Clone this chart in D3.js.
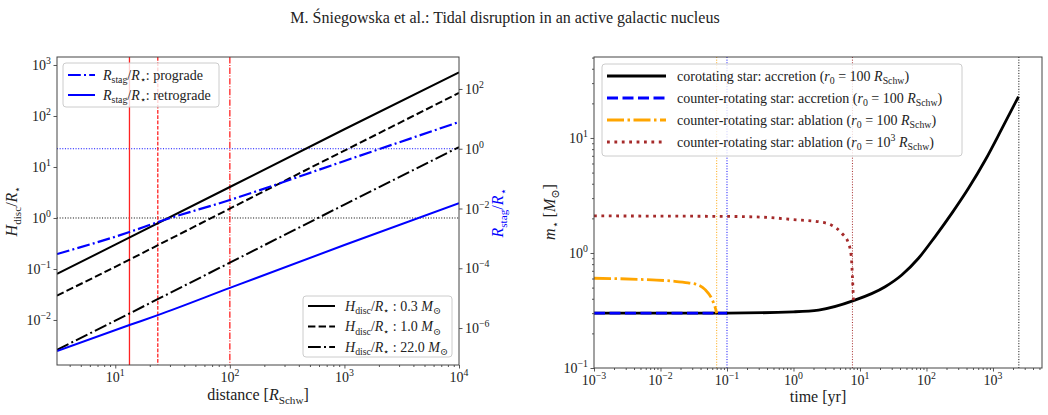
<!DOCTYPE html>
<html>
<head>
<meta charset="utf-8">
<script src="https://cdn.jsdelivr.net/npm/d3@7"></script>
<style>
body { margin: 0; background: #fff; }
svg text, svg tspan { font-family: "Liberation Serif", "DejaVu Serif", serif; fill: #222; }
</style>
</head>
<body>
<div id="chart-area"></div>
<script>
// ---- left panel data (distance in R_Schw) ----
var distTicks = [10, 100, 1000, 10000];
var hdiscTicks = [1e-2, 1e-1, 1, 10, 100, 1000];
var rstagTicks = [1e-6, 1e-4, 1e-2, 1, 100];

var hdiscDist = [3.1, 10, 100, 1000, 10000];
var hdisc03 = [0.08, 0.30, 4.05, 55, 720];
var hdisc10 = [0.03, 0.11, 1.53, 21, 283];
var hdisc22 = [0.0026, 0.0097, 0.133, 1.83, 24.6];

var progradeDist = [3.1, 13.3, 23.5, 100, 1000, 10000];
var progradeVal = [3.0e-4, 1.63e-3, 3.5e-3, 0.0193, 0.39, 7.85];
var retroDist = [3.1, 13.3, 23.5, 100, 1000, 10000];
var retroVal = [1.7e-7, 1.26e-6, 2.7e-6, 2.2e-5, 6.0e-4, 0.015];

var redLines = [13.3, 23.5, 100];

// ---- right panel data (time in yr, mass in M_sun) ----
var timeTicks = [1e-3, 1e-2, 1e-1, 1, 10, 100, 1000];
var massTicks = [0.1, 1, 10];

var coroT = [1e-3, 0.1, 1, 2.38, 7.98, 23.9, 42.5, 75.8, 135, 240, 428, 763, 1356, 2417];
var coroM = [0.3, 0.3, 0.308, 0.319, 0.385, 0.509, 0.644, 0.90, 1.39, 2.21, 3.65, 6.4, 12.0, 22.9];
var counterAccT = [1e-3, 0.1];
var counterAccM = [0.3, 0.3];
var abl100T = [1e-3, 0.0047, 0.0147, 0.026, 0.037, 0.047, 0.059, 0.066, 0.070];
var abl100M = [0.603, 0.59, 0.57, 0.55, 0.527, 0.48, 0.40, 0.34, 0.30];
var abl1000T = [1e-3, 0.1, 0.4, 1.0, 2.38, 3.7, 5.3, 6.7, 7.4, 7.7, 7.98];
var abl1000M = [2.1, 2.08, 2.04, 1.95, 1.87, 1.75, 1.49, 1.22, 0.93, 0.62, 0.385];

var endTimes = [0.07, 0.1, 7.7, 2450];
var endColors = ["orange", "blue", "brown", "black"];

var W = 1048, H = 415;
var FRAME = "#444";
var TICK_FS = 14, LEG_FS = 14, LAB_FS = 16;

var svg = d3.select("#chart-area").append("svg")
    .attr("width", W)
    .attr("height", H);

function zip(a, b) {
    return a.map(function(v, i) { return [v, b[i]]; });
}

// text with italic / sub / sup parts
function rich(sel, parts, size) {
    var shift = 0;
    parts.forEach(function(p) {
        var txt = p[0], kind = p[1] || "r";
        var target = 0, fs = size, style = "normal";
        if (kind === "i") style = "italic";
        if (kind === "sub") { target = size * 0.28; fs = size * 0.7; }
        if (kind === "sup") { target = -size * 0.42; fs = size * 0.7; }
        sel.append("tspan")
            .attr("dy", target - shift)
            .attr("font-size", fs)
            .attr("font-style", style)
            .text(txt);
        shift = target;
    });
}

function powLabel(sel, v, size) {
    var e = Math.round(Math.log10(v));
    rich(sel, [["10"], [e < 0 ? "\u2212" + (-e) : String(e), "sup"]], size);
}

function styleAxis(g) {
    g.select(".domain").remove();
    g.selectAll(".tick line").attr("stroke", FRAME).attr("stroke-width", 0.9);
}

function minorOf(scale) {
    return scale.ticks().filter(function(v) {
        var l = Math.log10(v);
        return Math.abs(l - Math.round(l)) > 1e-6;
    });
}

// ---------------- title ----------------
svg.append("text")
    .attr("x", 505)
    .attr("y", 23)
    .attr("text-anchor", "middle")
    .attr("font-size", 16)
    .text("M. \u015aniegowska et al.: Tidal disruption in an active galactic nucleus");

// ---------------- left panel ----------------
var L = { x0: 57, x1: 459, y0: 57, y1: 365 };
var xL = d3.scaleLog().domain([3.1, 1e4]).range([L.x0, L.x1]);
var yL = d3.scaleLog().domain([1.31e-3, 1435]).range([L.y1, L.y0]);
var yR = d3.scaleLog().domain([5.8e-8, 1175]).range([L.y1, L.y0]);

svg.append("clipPath").attr("id", "clipL")
    .append("rect").attr("x", L.x0).attr("y", L.y0)
    .attr("width", L.x1 - L.x0).attr("height", L.y1 - L.y0);

var left = svg.append("g").attr("clip-path", "url(#clipL)");

// reference lines
left.append("line")
    .attr("x1", L.x0).attr("x2", L.x1)
    .attr("y1", yL(1)).attr("y2", yL(1))
    .attr("stroke", "black").attr("stroke-width", 1).attr("stroke-dasharray", "1,1.65");
left.append("line")
    .attr("x1", L.x0).attr("x2", L.x1)
    .attr("y1", yR(1)).attr("y2", yR(1))
    .attr("stroke", "blue").attr("stroke-width", 1).attr("stroke-dasharray", "1,1.65");

var redDash = ["none", "3.7,1.6", "6.4,1.6,1,1.6"];
left.selectAll("line.red").data(redLines)
    .enter()
    .append("line")
    .attr("class", "red")
    .attr("x1", function(d) { return xL(d); })
    .attr("x2", function(d) { return xL(d); })
    .attr("y1", L.y0).attr("y2", L.y1)
    .attr("stroke", "#f22").attr("stroke-width", 1.3)
    .attr("stroke-dasharray", function(d, i) { return redDash[i]; });

var lineL = d3.line()
    .x(function(d) { return xL(d[0]); })
    .y(function(d) { return yL(d[1]); });
var lineR = d3.line()
    .x(function(d) { return xL(d[0]); })
    .y(function(d) { return yR(d[1]); })
    .curve(d3.curveMonotoneX);

var hdiscSeries = [
    { v: hdisc03, dash: "none", mass: "0.3" },
    { v: hdisc10, dash: "7.4,3.2", mass: "1.0" },
    { v: hdisc22, dash: "12.8,3.2,2,3.2", mass: "22.0" }
];

hdiscSeries.forEach(function(s) {
    left.append("path")
        .attr("d", lineL(zip(hdiscDist, s.v)))
        .attr("fill", "none")
        .attr("stroke", "black")
        .attr("stroke-width", 2)
        .attr("stroke-dasharray", s.dash);
});

left.append("path")
    .attr("d", lineR(zip(progradeDist, progradeVal)))
    .attr("fill", "none").attr("stroke", "blue").attr("stroke-width", 2.2)
    .attr("stroke-dasharray", "12.8,3.2,2,3.2");
left.append("path")
    .attr("d", lineR(zip(retroDist, retroVal)))
    .attr("fill", "none").attr("stroke", "blue").attr("stroke-width", 2);

// axes
var gxL = svg.append("g").attr("transform", "translate(0," + L.y1 + ")")
    .call(d3.axisBottom(xL).tickValues(distTicks).tickSize(3.5).tickFormat(""));
styleAxis(gxL);
var gxLm = svg.append("g").attr("transform", "translate(0," + L.y1 + ")")
    .call(d3.axisBottom(xL).tickValues(minorOf(xL)).tickSize(2).tickFormat(""));
styleAxis(gxLm);
var gyL = svg.append("g").attr("transform", "translate(" + L.x0 + ",0)")
    .call(d3.axisLeft(yL).tickValues(hdiscTicks).tickSize(3.5).tickFormat(""));
styleAxis(gyL);
var gyR = svg.append("g").attr("transform", "translate(" + L.x1 + ",0)")
    .call(d3.axisRight(yR).tickValues(rstagTicks).tickSize(3.5).tickFormat(""));
styleAxis(gyR);

svg.append("rect")
    .attr("x", L.x0).attr("y", L.y0)
    .attr("width", L.x1 - L.x0).attr("height", L.y1 - L.y0)
    .attr("fill", "none").attr("stroke", FRAME).attr("stroke-width", 1);

distTicks.forEach(function(v) {
    svg.append("text").attr("x", xL(v)).attr("y", L.y1 + 17)
        .attr("text-anchor", "middle").call(powLabel, v, TICK_FS);
});
hdiscTicks.forEach(function(v) {
    svg.append("text").attr("x", L.x0 - 6).attr("y", yL(v) + 5)
        .attr("text-anchor", "end").call(powLabel, v, TICK_FS);
});
rstagTicks.forEach(function(v) {
    svg.append("text").attr("x", L.x1 + 6).attr("y", yR(v) + 5)
        .attr("text-anchor", "start").call(powLabel, v, TICK_FS);
});

svg.append("text").attr("x", 258).attr("y", 400)
    .attr("text-anchor", "middle")
    .call(rich, [["distance ["], ["R", "i"], ["Schw", "sub"], ["]"]], LAB_FS);

svg.append("text")
    .attr("transform", "translate(17,211) rotate(-90)")
    .attr("text-anchor", "middle")
    .call(rich, [["H", "i"], ["disc", "sub"], ["/"], ["R", "i"], ["\u22c6", "sub"]], LAB_FS);

svg.append("text")
    .attr("transform", "translate(503,213) rotate(-90)")
    .attr("text-anchor", "middle")
    .style("fill", "blue")
    .call(rich, [["R", "i"], ["stag", "sub"], ["/"], ["R", "i"], ["\u22c6", "sub"]], LAB_FS);
svg.selectAll("text").filter(function() { return this.style.fill === "blue"; })
    .selectAll("tspan").style("fill", "blue");

// legend: stagnation radius
var lg1 = svg.append("g");
lg1.append("rect").attr("x", 63).attr("y", 63).attr("width", 156).attr("height", 44).attr("rx", 3)
    .attr("fill", "white").attr("fill-opacity", 0.8).attr("stroke", "#ccc");
var lg1Items = [
    { dash: "12.8,3.2,2,3.2", name: ": prograde" },
    { dash: "none", name: ": retrograde" }
];
lg1Items.forEach(function(d, i) {
    var cy = 75 + i * 20;
    lg1.append("line").attr("x1", 68).attr("x2", 95).attr("y1", cy).attr("y2", cy)
        .attr("stroke", "blue").attr("stroke-width", 2).attr("stroke-dasharray", d.dash);
    lg1.append("text").attr("x", 103).attr("y", cy + 4.5)
        .call(rich, [["R", "i"], ["stag", "sub"], ["/"], ["R", "i"], ["\u22c6", "sub"], [d.name]], LEG_FS);
});

// legend: disc thickness
var lg2 = svg.append("g");
lg2.append("rect").attr("x", 303).attr("y", 296).attr("width", 149).attr("height", 61).attr("rx", 3)
    .attr("fill", "white").attr("fill-opacity", 0.8).attr("stroke", "#ccc");
hdiscSeries.forEach(function(s, i) {
    var cy = 306 + i * 20.5;
    lg2.append("line").attr("x1", 308).attr("x2", 335).attr("y1", cy).attr("y2", cy)
        .attr("stroke", "black").attr("stroke-width", 2).attr("stroke-dasharray", s.dash);
    lg2.append("text").attr("x", 345).attr("y", cy + 4.5)
        .call(rich, [["H", "i"], ["disc", "sub"], ["/"], ["R", "i"], ["\u22c6", "sub"],
            [" : " + s.mass + " "], ["M", "i"], ["\u2299", "sub"]], LEG_FS);
});

// ---------------- right panel ----------------
var P = { x0: 594, x1: 1042, y0: 57, y1: 368 };
var xT = d3.scaleLog().domain([1e-3, 5460]).range([P.x0, P.x1]);
var yM = d3.scaleLog().domain([0.1, 50.6]).range([P.y1, P.y0]);

svg.append("clipPath").attr("id", "clipR")
    .append("rect").attr("x", P.x0).attr("y", P.y0)
    .attr("width", P.x1 - P.x0).attr("height", P.y1 - P.y0);
var right = svg.append("g").attr("clip-path", "url(#clipR)");

right.selectAll("line.end").data(endTimes)
    .enter()
    .append("line")
    .attr("class", "end")
    .attr("x1", function(d) { return xT(d); })
    .attr("x2", function(d) { return xT(d); })
    .attr("y1", P.y0).attr("y2", P.y1)
    .attr("stroke", function(d, i) { return endColors[i]; })
    .attr("stroke-width", 1)
    .attr("stroke-dasharray", "1,1.65");

var lineM = d3.line()
    .x(function(d) { return xT(d[0]); })
    .y(function(d) { return yM(d[1]); })
    .curve(d3.curveMonotoneX);

var massSeries = [
    { t: coroT, m: coroM, color: "black", dash: "none",
      name: "corotating star: accretion (", r0: "100" },
    { t: counterAccT, m: counterAccM, color: "blue", dash: "11,4.5",
      name: "counter-rotating star: accretion (", r0: "100" },
    { t: abl100T, m: abl100M, color: "orange", dash: "17,3.5,2.5,3.5",
      name: "counter-rotating star: ablation (", r0: "100" },
    { t: abl1000T, m: abl1000M, color: "brown", dash: "2.8,4.6",
      name: "counter-rotating star: ablation (", r0: "10^3" }
];

massSeries.forEach(function(s) {
    right.append("path")
        .attr("d", lineM(zip(s.t, s.m)))
        .attr("fill", "none")
        .attr("stroke", s.color)
        .attr("stroke-width", 2.8)
        .attr("stroke-dasharray", s.dash);
});

var gxT = svg.append("g").attr("transform", "translate(0," + P.y1 + ")")
    .call(d3.axisBottom(xT).tickValues(timeTicks).tickSize(3.5).tickFormat(""));
styleAxis(gxT);
var gxTm = svg.append("g").attr("transform", "translate(0," + P.y1 + ")")
    .call(d3.axisBottom(xT).tickValues(minorOf(xT)).tickSize(2).tickFormat(""));
styleAxis(gxTm);
var gyM = svg.append("g").attr("transform", "translate(" + P.x0 + ",0)")
    .call(d3.axisLeft(yM).tickValues(massTicks).tickSize(3.5).tickFormat(""));
styleAxis(gyM);
var gyMm = svg.append("g").attr("transform", "translate(" + P.x0 + ",0)")
    .call(d3.axisLeft(yM).tickValues(minorOf(yM)).tickSize(2).tickFormat(""));
styleAxis(gyMm);

svg.append("rect")
    .attr("x", P.x0).attr("y", P.y0)
    .attr("width", P.x1 - P.x0).attr("height", P.y1 - P.y0)
    .attr("fill", "none").attr("stroke", FRAME).attr("stroke-width", 1);

timeTicks.forEach(function(v) {
    svg.append("text").attr("x", xT(v)).attr("y", P.y1 + 17)
        .attr("text-anchor", "middle").call(powLabel, v, TICK_FS);
});
massTicks.forEach(function(v) {
    svg.append("text").attr("x", P.x0 - 6).attr("y", yM(v) + 5)
        .attr("text-anchor", "end").call(powLabel, v, TICK_FS);
});

svg.append("text").attr("x", 818).attr("y", 402)
    .attr("text-anchor", "middle")
    .call(rich, [["time [yr]"]], LAB_FS);

svg.append("text")
    .attr("transform", "translate(555,212) rotate(-90)")
    .attr("text-anchor", "middle")
    .call(rich, [["m", "i"], ["\u22c6", "sub"], [" ["], ["M", "i"], ["\u2299", "sub"], ["]"]], LAB_FS);

// legend: mass evolution
var lg3 = svg.append("g");
lg3.append("rect").attr("x", 602).attr("y", 64).attr("width", 360).attr("height", 92).attr("rx", 3)
    .attr("fill", "white").attr("fill-opacity", 0.8).attr("stroke", "#ccc");
massSeries.forEach(function(s, i) {
    var cy = 76 + i * 22;
    lg3.append("line").attr("x1", 607).attr("x2", 666).attr("y1", cy).attr("y2", cy)
        .attr("stroke", s.color).attr("stroke-width", 2.8)
        .attr("stroke-dasharray", s.dash);
    var r0parts = s.r0 === "100" ? [["100 "]] : [["10"], ["3", "sup"], [" "]];
    var parts = [[s.name], ["r", "i"], ["0", "sub"], [" = "]]
        .concat(r0parts)
        .concat([["R", "i"], ["Schw", "sub"], [")"]]);
    lg3.append("text").attr("x", 677).attr("y", cy + 4.5)
        .call(rich, parts, LEG_FS);
});
</script>
</body>
</html>
